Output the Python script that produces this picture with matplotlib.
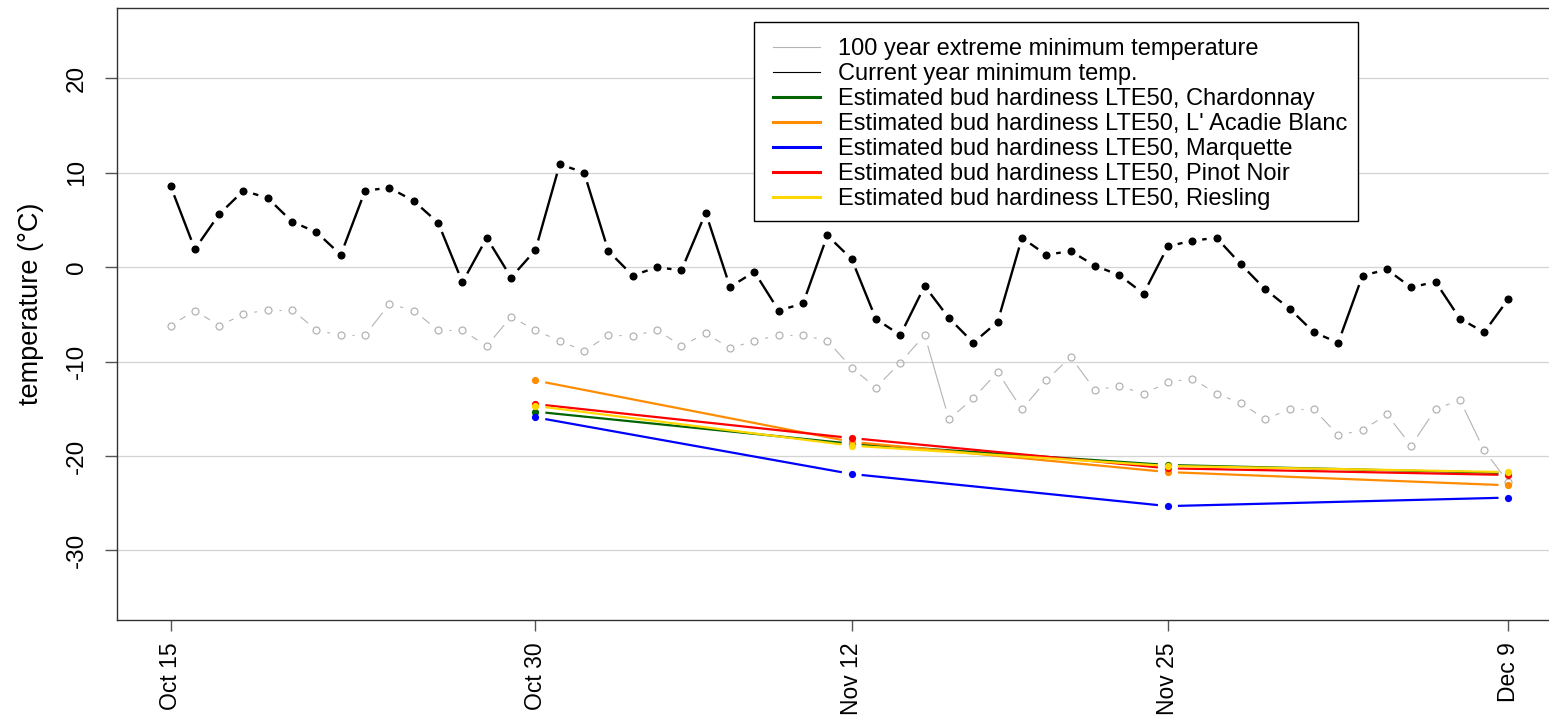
import numpy as np
import matplotlib
matplotlib.use('Agg')
import matplotlib.pyplot as plt
from matplotlib.collections import LineCollection
from matplotlib.lines import Line2D
from matplotlib.patches import Rectangle

plt.rcParams['font.family'] = ['Liberation Sans', 'DejaVu Sans']

# ---------------- data ----------------
days = list(range(56))  # Oct 15 .. Dec 9
tick_days = [0, 15, 28, 41, 55]
tick_labels = ['Oct 15', 'Oct 30', 'Nov 12', 'Nov 25', 'Dec 9']
y_ticks = [-30, -20, -10, 0, 10, 20]

extreme_min = [-6.2, -4.6, -6.2, -5.0, -4.5, -4.5, -6.7, -7.2, -7.2, -3.9, -4.6, -6.7,
               -6.7, -8.35, -5.25, -6.7, -7.8,
               -8.9, -7.2, -7.3, -6.65, -8.35, -7.0, -8.6, -7.8, -7.2, -7.2, -7.8,
               -10.65, -12.75, -10.1, -7.2, -16.1, -13.9, -11.1, -15.05,
               -12.0, -9.5, -13.0, -12.6, -13.4, -12.2, -11.8, -13.4, -14.4, -16.1,
               -15.05, -15.05, -17.8, -17.25, -15.6, -18.9, -15.05, -14.05, -19.4, -22.8]

current_min = [8.6, 1.9, 5.6, 8.1, 7.3, 4.8, 3.7, 1.3, 8.1, 8.4, 7.0, 4.7, -1.6, 3.1,
               -1.1, 1.8,
               10.9, 10.0, 1.7, -0.9, 0.0, -0.35, 5.75, -2.1, -0.5, -4.6, -3.85, 3.35,
               0.85, -5.5, -7.2, -2.0, -5.4, -8.0,
               -5.8, 3.1, 1.3, 1.7, 0.15, -0.85, -2.8, 2.2, 2.8, 3.1, 0.3, -2.35, -4.4,
               -6.9, -8.0, -0.9, -0.25, -2.15, -1.55, -5.45, -6.9, -3.35]

hard_days = [15, 28, 41, 55]
chardonnay = [-15.3, -18.7, -20.95, -21.8]
acadie = [-12.0, -18.5, -21.7, -23.1]
marquette = [-15.9, -21.9, -25.3, -24.4]
pinot = [-14.5, -18.1, -21.3, -22.0]
riesling = [-14.7, -18.9, -21.05, -21.7]

variety_names = ['Chardonnay', "L' Acadie Blanc", 'Marquette', 'Pinot Noir', 'Riesling']
variety_values = [chardonnay, acadie, marquette, pinot, riesling]
variety_colors = ['#006400', '#FF8C00', '#0000FF', '#FF0000', '#FFD700']

# ---------------- figure ----------------
W, H = 1549, 716
fig = plt.figure(figsize=(W / 100, H / 100), dpi=100)
left_px, right_px, top_px, bottom_px = 117, 1562, 8.3, 620.4
ax = fig.add_axes([left_px / W, (H - bottom_px) / H,
                   (right_px - left_px) / W, (bottom_px - top_px) / H])
ax.set_xlim(-2.2, 57.2)
ax.set_ylim(-37.4, 27.4)

for yt in y_ticks:
    ax.axhline(yt, color='#D3D3D3', lw=0.9, zorder=0)


def b_line(x, y, gap_px, **kw):
    """R type='b' style: line segments that stop short of the points."""
    pts = ax.transData.transform(np.column_stack([x, y]))
    inv = ax.transData.inverted()
    segs = []
    for p0, p1 in zip(pts[:-1], pts[1:]):
        d = p1 - p0
        L = np.hypot(d[0], d[1])
        if L > 2 * gap_px:
            u = d / L
            segs.append(inv.transform(np.array([p0 + u * gap_px, p1 - u * gap_px])))
    lc = LineCollection(segs, capstyle='butt', **kw)
    ax.add_collection(lc)


gray = '#B3B3B3'
b_line(days, extreme_min, 11, colors=gray, linewidths=0.8, zorder=2)
ax.plot(days, extreme_min, ls='none', marker='o', ms=5.0, mfc='none',
        mec=gray, mew=0.9, zorder=3)

b_line(days, current_min, 10, colors='black', linewidths=1.7, zorder=2)
ax.plot(days, current_min, ls='none', marker='o', ms=5.8, mfc='black',
        mec='black', mew=0, zorder=3)

for vals, col in zip(variety_values, variety_colors):
    b_line(hard_days, vals, 10, colors=col, linewidths=1.6, zorder=4)
    ax.plot(hard_days, vals, ls='none', marker='o', ms=5.2, mfc=col, mec=col,
            mew=0, zorder=5)

# axes styling
ax.set_xticks(tick_days)
ax.set_xticklabels(tick_labels, rotation=90, fontsize=16.5)
ax.set_yticks(y_ticks)
ax.set_yticklabels([str(v) for v in y_ticks], rotation=90, fontsize=17.5, va='center')
ax.tick_params(axis='x', length=8, width=1, color='#555555', pad=8)
ax.tick_params(axis='y', length=9, width=1, color='#555555', pad=12)
for s in ax.spines.values():
    s.set_color('#333333')
    s.set_linewidth(1)

fig.text(31 / W, 1 - 304 / H, 'temperature (°C)', rotation=90, fontsize=19.5,
         ha='center', va='center')

# legend (frame drawn separately)
handles = [Line2D([], [], color=gray, lw=0.8),
           Line2D([], [], color='black', lw=0.8)]
labels = ['100 year extreme minimum temperature', 'Current year minimum temp.']
for name, col in zip(variety_names, variety_colors):
    handles.append(Line2D([], [], color=col, lw=2.2))
    labels.append('Estimated bud hardiness LTE50, ' + name)
leg = fig.legend(handles, labels, loc='upper left',
                 bbox_to_anchor=(773 / W, 1 - 38 / H), bbox_transform=fig.transFigure,
                 borderaxespad=0, borderpad=0, fontsize=17.0, frameon=False,
                 handlelength=2.0, handletextpad=0.76, labelspacing=0.13)
fig.patches.append(Rectangle((754 / W, 1 - 221 / H), (1358 - 754) / W, (221 - 22) / H,
                             transform=fig.transFigure, fill=True, facecolor='white',
                             edgecolor='black', linewidth=1, zorder=0))
leg.set_zorder(5)

fig.savefig('out.png', dpi=100)
